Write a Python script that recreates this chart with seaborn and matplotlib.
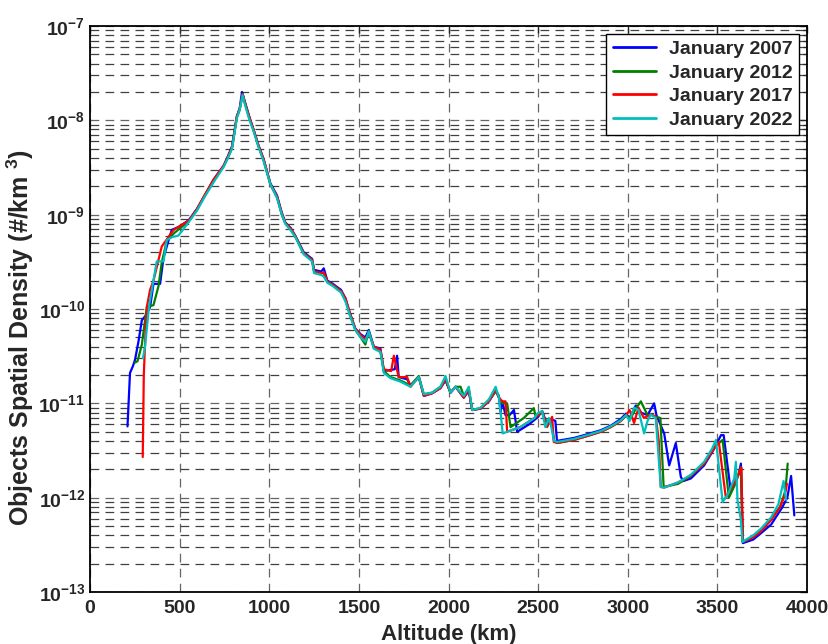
import math
import matplotlib
matplotlib.use("Agg")
import pandas as pd
import seaborn as sns
import matplotlib.pyplot as plt
from matplotlib.ticker import LogLocator, FuncFormatter, MultipleLocator, NullFormatter

# altitude (km) / spatial density (#/km^3)
alt_2007 = [209, 223, 240, 251, 270, 289, 310, 335, 354, 391, 410, 440, 456, 493, 550, 596, 640, 689, 745, 770,
            792, 819, 835, 848, 865, 890, 912, 940, 968, 1006, 1043, 1070, 1089, 1120, 1145, 1192, 1239, 1250,
            1290, 1304, 1324, 1355, 1380, 1400, 1425, 1450, 1480, 1510, 1536, 1555, 1583, 1620, 1639, 1700,
            1713, 1722, 1769, 1788, 1834, 1862, 1909, 1955, 1983, 2011, 2039, 2085, 2113, 2132, 2179, 2225,
            2263, 2281, 2290, 2300, 2318, 2340, 2365, 2383, 2450, 2500, 2522, 2550, 2575, 2596, 2605, 2700,
            2773, 2850, 2905, 2960, 2990, 3010, 3045, 3073, 3110, 3147, 3160, 3203, 3231, 3268, 3296, 3310,
            3352, 3426, 3482, 3520, 3535, 3575, 3620, 3631, 3642, 3700, 3743, 3800, 3860, 3890, 3911, 3929]
dens_2007 = [5.7e-12, 2.1e-11, 2.5e-11, 2.9e-11, 4.5e-11, 7.6e-11, 8.5e-11, 1.05e-10, 1.85e-10, 1.85e-10,
             3.5e-10, 5.5e-10, 6.9e-10, 7.4e-10, 8.7e-10, 1.15e-9, 1.6e-9, 2.35e-9, 3.3e-9, 4.2e-9,
             5.3e-9, 1.1e-8, 1.35e-8, 2.0e-8, 1.55e-8, 1.07e-8, 8.0e-9, 5.4e-9, 3.9e-9, 2.15e-9, 1.6e-9,
             1.05e-9, 8.3e-10, 7.2e-10, 6.0e-10, 4.0e-10, 3.4e-10, 2.6e-10, 2.5e-10, 2.7e-10, 2.0e-10,
             1.85e-10, 1.7e-10, 1.6e-10, 1.3e-10, 9.0e-11, 6.2e-11, 5.4e-11, 5.0e-11, 6.0e-11, 4.0e-11,
             3.8e-11, 2.2e-11, 2.3e-11, 3.2e-11, 1.9e-11, 1.8e-11, 1.55e-11, 1.9e-11, 1.2e-11, 1.28e-11,
             1.45e-11, 1.75e-11, 1.3e-11, 1.5e-11, 1.15e-11, 1.35e-11, 8.5e-12, 8.8e-12, 1.05e-11,
             1.35e-11, 1.2e-11, 8.1e-12, 1.05e-11, 7.5e-12, 7.5e-12, 8.5e-12, 5.0e-12, 6.0e-12, 7.2e-12,
             8.3e-12, 6.0e-12, 6.8e-12, 6.5e-12, 4.0e-12, 4.3e-12, 4.7e-12, 5.2e-12, 5.8e-12, 6.8e-12,
             7.8e-12, 7.0e-12, 9.5e-12, 8.0e-12, 7.5e-12, 1.0e-11, 7.5e-12, 4.8e-12, 2.2e-12, 3.8e-12,
             1.66e-12, 1.5e-12, 1.6e-12, 2.2e-12, 3.3e-12, 4.6e-12, 4.6e-12, 1.15e-12, 1.8e-12, 2.3e-12,
             3.3e-13, 3.6e-13, 4.2e-13, 5.2e-13, 7.8e-13, 1.0e-12, 1.7e-12, 6.5e-13]

alt_2012 = [250, 265, 289, 317, 354, 382, 400, 428, 470, 550, 596, 640, 689, 745, 770, 792, 819, 835, 851,
            865, 890, 912, 940, 968, 1006, 1043, 1070, 1089, 1120, 1145, 1192, 1239, 1250, 1290, 1304, 1324,
            1355, 1380, 1400, 1425, 1450, 1480, 1510, 1536, 1555, 1583, 1620, 1639, 1676, 1731, 1788, 1834,
            1862, 1909, 1955, 1983, 2011, 2039, 2067, 2085, 2113, 2132, 2179, 2225, 2263, 2281, 2300, 2327,
            2346, 2420, 2476, 2486, 2522, 2550, 2570, 2589, 2607, 2700, 2773, 2850, 2905, 2960, 2990, 3017,
            3045, 3073, 3110, 3128, 3156, 3182, 3200, 3280, 3352, 3426, 3480, 3529, 3564, 3600, 3631, 3641,
            3700, 3743, 3800, 3850, 3880, 3892]
dens_2012 = [2.7e-11, 2.8e-11, 4.2e-11, 1.05e-10, 1.1e-10, 1.75e-10, 3.1e-10, 5.3e-10, 6.4e-10, 8.5e-10,
             1.12e-9, 1.6e-9, 2.3e-9, 3.25e-9, 4.1e-9, 5.1e-9, 1.08e-8, 1.3e-8, 1.9e-8, 1.5e-8, 1.04e-8,
             7.9e-9, 5.3e-9, 3.8e-9, 2.1e-9, 1.55e-9, 1.0e-9, 8.2e-10, 7.0e-10, 5.9e-10, 3.9e-10, 3.3e-10,
             2.5e-10, 2.4e-10, 2.4e-10, 1.95e-10, 1.8e-10, 1.65e-10, 1.55e-10, 1.25e-10, 8.8e-11, 6.0e-11,
             5.0e-11, 4.2e-11, 5.8e-11, 3.9e-11, 3.6e-11, 2.2e-11, 1.9e-11, 1.75e-11, 1.55e-11, 1.95e-11,
             1.25e-11, 1.3e-11, 1.5e-11, 1.8e-11, 1.3e-11, 1.5e-11, 1.5e-11, 1.2e-11, 1.4e-11, 8.5e-12,
             8.9e-12, 1.08e-11, 1.35e-11, 1.15e-11, 1.0e-11, 1.0e-11, 5.6e-12, 7.0e-12, 8.9e-12, 7.2e-12,
             8.0e-12, 5.8e-12, 6.8e-12, 4.0e-12, 3.8e-12, 4.1e-12, 4.5e-12, 5.0e-12, 5.6e-12, 6.5e-12,
             7.4e-12, 7.0e-12, 8.8e-12, 1.05e-11, 7.5e-12, 7.6e-12, 7.2e-12, 7.0e-12, 1.3e-12, 1.4e-12,
             1.7e-12, 2.3e-12, 3.4e-12, 4.1e-12, 1.0e-12, 1.4e-12, 2.1e-12, 3.4e-13, 3.9e-13, 4.5e-13,
             6.0e-13, 8.0e-13, 1.2e-12, 2.3e-12]

alt_2017 = [294, 300, 310, 317, 335, 354, 400, 466, 550, 596, 640, 689, 745, 770, 792, 819, 835, 851, 865,
            890, 912, 940, 968, 1006, 1043, 1070, 1089, 1120, 1145, 1192, 1239, 1250, 1290, 1304, 1324, 1355,
            1380, 1400, 1425, 1450, 1480, 1510, 1536, 1555, 1583, 1620, 1639, 1680, 1695, 1722, 1769, 1788,
            1834, 1862, 1909, 1955, 1983, 2011, 2039, 2085, 2113, 2132, 2179, 2225, 2263, 2281, 2300, 2318,
            2327, 2400, 2480, 2522, 2550, 2578, 2587, 2607, 2700, 2773, 2850, 2905, 2960, 2990, 3010, 3035,
            3060, 3090, 3128, 3156, 3173, 3184, 3203, 3280, 3352, 3426, 3480, 3508, 3547, 3600, 3634, 3642,
            3700, 3743, 3800, 3850, 3875, 3888]
dens_2017 = [2.7e-12, 2.0e-11, 6.0e-11, 1.05e-10, 1.6e-10, 2.0e-10, 4.6e-10, 6.9e-10, 8.6e-10, 1.14e-9,
             1.62e-9, 2.35e-9, 3.3e-9, 4.1e-9, 5.2e-9, 1.1e-8, 1.32e-8, 1.9e-8, 1.52e-8, 1.06e-8, 8.0e-9,
             5.4e-9, 3.9e-9, 2.1e-9, 1.55e-9, 1.02e-9, 8.2e-10, 7.1e-10, 5.9e-10, 3.9e-10, 3.3e-10,
             2.5e-10, 2.4e-10, 2.45e-10, 1.95e-10, 1.8e-10, 1.65e-10, 1.55e-10, 1.3e-10, 9.0e-11, 6.2e-11,
             5.3e-11, 4.8e-11, 5.6e-11, 4.0e-11, 3.7e-11, 2.3e-11, 2.2e-11, 3.2e-11, 1.9e-11, 1.9e-11,
             1.5e-11, 1.9e-11, 1.2e-11, 1.28e-11, 1.45e-11, 1.8e-11, 1.3e-11, 1.5e-11, 1.15e-11,
             1.4e-11, 8.5e-12, 8.8e-12, 1.05e-11, 1.4e-11, 1.15e-11, 1.05e-11, 1.05e-11, 5.0e-12,
             5.6e-12, 7.0e-12, 8.2e-12, 5.6e-12, 7.2e-12, 3.9e-12, 3.8e-12, 4.1e-12, 4.5e-12, 5.0e-12,
             5.6e-12, 6.5e-12, 7.4e-12, 8.5e-12, 6.2e-12, 9.0e-12, 7.0e-12, 7.6e-12, 7.3e-12, 4.0e-12,
             1.3e-12, 1.28e-12, 1.45e-12, 1.72e-12, 2.3e-12, 3.3e-12, 3.9e-12, 1.0e-12, 1.5e-12, 2.1e-12,
             3.4e-13, 3.8e-13, 4.4e-13, 5.8e-13, 8.0e-13, 1.05e-12, 1.4e-12]

alt_2022 = [295, 307, 330, 345, 372, 410, 428, 460, 493, 550, 596, 640, 689, 745, 770, 792, 819, 835, 851,
            865, 890, 912, 940, 968, 1006, 1043, 1070, 1089, 1120, 1145, 1192, 1239, 1250, 1290, 1304, 1324,
            1355, 1380, 1400, 1425, 1450, 1480, 1510, 1536, 1555, 1583, 1620, 1639, 1676, 1731, 1788, 1834,
            1862, 1909, 1955, 1983, 2011, 2039, 2085, 2113, 2132, 2179, 2225, 2263, 2281, 2292, 2302, 2400,
            2480, 2495, 2522, 2540, 2560, 2570, 2589, 2607, 2700, 2773, 2850, 2905, 2960, 2990, 3010, 3035,
            3060, 3091, 3110, 3128, 3156, 3184, 3203, 3280, 3352, 3426, 3470, 3492, 3529, 3560, 3594, 3603,
            3612, 3630, 3640, 3700, 3743, 3800, 3840, 3869, 3883]
dens_2022 = [3.0e-11, 4.0e-11, 1.1e-10, 1.6e-10, 3.2e-10, 3.2e-10, 5.4e-10, 5.8e-10, 6.0e-10, 8.3e-10,
             1.1e-9, 1.55e-9, 2.2e-9, 3.2e-9, 4.0e-9, 5.0e-9, 1.05e-8, 1.3e-8, 1.85e-8, 1.45e-8, 1.0e-8,
             7.7e-9, 5.2e-9, 3.7e-9, 2.1e-9, 1.5e-9, 1.0e-9, 8.0e-10, 6.8e-10, 5.8e-10, 3.8e-10, 3.2e-10,
             2.4e-10, 2.3e-10, 2.2e-10, 1.9e-10, 1.75e-10, 1.6e-10, 1.5e-10, 1.2e-10, 8.5e-11, 6.0e-11,
             5.0e-11, 4.5e-11, 5.8e-11, 3.8e-11, 3.5e-11, 2.1e-11, 1.85e-11, 1.7e-11, 1.5e-11, 1.9e-11,
             1.25e-11, 1.3e-11, 1.5e-11, 1.95e-11, 1.3e-11, 1.5e-11, 1.2e-11, 1.5e-11, 8.5e-12, 9.0e-12,
             1.1e-11, 1.5e-11, 1.15e-11, 7.5e-12, 4.8e-12, 5.6e-12, 7.0e-12, 7.8e-12, 8.3e-12, 5.6e-12,
             7.0e-12, 6.0e-12, 4.0e-12, 3.9e-12, 4.2e-12, 4.6e-12, 5.1e-12, 5.7e-12, 6.6e-12, 7.5e-12,
             6.5e-12, 9.0e-12, 8.5e-12, 4.8e-12, 6.5e-12, 7.6e-12, 7.0e-12, 1.3e-12, 1.28e-12, 1.45e-12,
             1.75e-12, 2.4e-12, 3.3e-12, 4.1e-12, 9.0e-13, 1.1e-12, 1.6e-12, 2.4e-12, 9.5e-13, 6.0e-13,
             3.4e-13, 4.0e-13, 4.7e-13, 6.2e-13, 8.5e-13, 1.5e-12, 9.5e-13]

labels = ["January 2007", "January 2012", "January 2017", "January 2022"]
colors = ["#0000ff", "#008000", "#ff0000", "#00bfbf"]

frames = []
for lab, a, d in zip(labels, [alt_2007, alt_2012, alt_2017, alt_2022],
                     [dens_2007, dens_2012, dens_2017, dens_2022]):
    frames.append(pd.DataFrame({"alt": a, "dens": d, "series": lab}))
df = pd.concat(frames, ignore_index=True)

sns.set_style("white")
plt.rcParams["font.family"] = ["Liberation Sans", "DejaVu Sans"]
plt.rcParams["font.weight"] = "bold"
plt.rcParams["mathtext.fontset"] = "custom"
plt.rcParams["mathtext.bf"] = "Liberation Sans:bold"
plt.rcParams["mathtext.rm"] = "Liberation Sans:bold"

fig = plt.figure(figsize=(8.29, 6.44), dpi=100)
ax = fig.add_axes([0.1086, 0.0807, 0.8649, 0.8789])

sns.lineplot(data=df, x="alt", y="dens", hue="series", hue_order=labels,
             palette=dict(zip(labels, colors)), sort=False, estimator=None,
             linewidth=1.6, ax=ax)

ax.set_yscale("log")
ax.set_xlim(0, 4000)
ax.set_ylim(1e-13, 1e-7)
ax.xaxis.set_major_locator(MultipleLocator(500))
ax.yaxis.set_major_locator(LogLocator(base=10, numticks=10))
ax.yaxis.set_minor_locator(LogLocator(base=10, subs=range(2, 10), numticks=20))
ax.yaxis.set_minor_formatter(NullFormatter())
ax.yaxis.set_major_formatter(FuncFormatter(lambda v, p: r"$\mathbf{10^{%d}}$" % round(math.log10(v))))

ax.grid(True, which="major", axis="both", color="0.4", linestyle=(0, (7, 5)), linewidth=0.9)
ax.grid(True, which="minor", axis="y", color="0.25", linestyle=(0, (7, 5)), linewidth=0.9)
ax.set_axisbelow(True)

ax.tick_params(which="both", direction="in", top=True, right=True, labelsize=14, width=1)
ax.tick_params(which="major", length=5)
ax.tick_params(axis="x", pad=6)
ax.tick_params(which="minor", length=3)
for lbl in ax.get_xticklabels():
    lbl.set_fontweight("bold")
for s in ax.spines.values():
    s.set_color("black")
    s.set_linewidth(1.3)

ax.set_xlabel("Altitude (km)", fontsize=16, fontweight="bold", labelpad=5)
ax.set_ylabel(r"Objects Spatial Density (#/km $\mathbf{^{3}}$)", fontsize=18, fontweight="bold")
ax.yaxis.set_label_coords(-0.076, 0.449)

leg = ax.legend(loc="upper right", fontsize=14, frameon=True, fancybox=False, edgecolor="black",
                framealpha=1, handlelength=2.2, handletextpad=0.67, labelspacing=0.3,
                borderaxespad=0.4, borderpad=0.35)
leg.get_frame().set_linewidth(1.0)
for t in leg.get_texts():
    t.set_fontweight("bold")
for h in leg.get_lines():
    h.set_linewidth(2)

fig.savefig("out.png", dpi=100)
